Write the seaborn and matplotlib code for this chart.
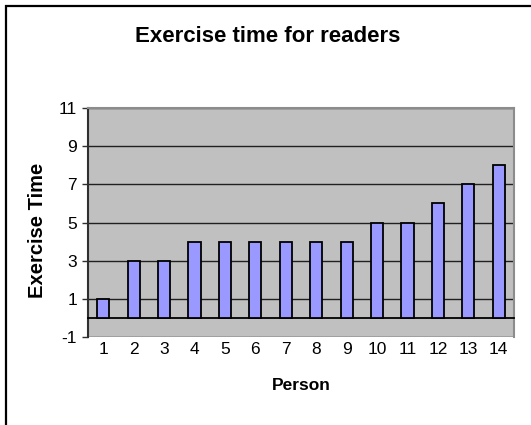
import matplotlib
matplotlib.use('Agg')
import matplotlib.pyplot as plt
import numpy as np
import pandas as pd
import seaborn as sns
from matplotlib.patches import Rectangle
from matplotlib.ticker import FixedLocator

# data
persons = ['1', '2', '3', '4', '5', '6', '7', '8', '9', '10', '11', '12', '13', '14']
exercise_time = [1, 3, 3, 4, 4, 4, 4, 4, 4, 5, 5, 6, 7, 8]
y_ticks = [-1, 1, 3, 5, 7, 9, 11]

TITLE = 'Exercise time for readers'
XLABEL = 'Person'
YLABEL = 'Exercise Time'

sns.set_style('white')
plt.rcParams['font.family'] = ['Liberation Sans', 'DejaVu Sans']
plt.rcParams['text.color'] = 'black'
plt.rcParams['axes.labelcolor'] = 'black'
plt.rcParams['xtick.color'] = 'black'
plt.rcParams['ytick.color'] = 'black'

df = pd.DataFrame({'Person': persons, 'Exercise Time': exercise_time})

fig = plt.figure(figsize=(5.31, 4.25), dpi=100)
ax = fig.add_axes([88 / 531, 1 - 337 / 425, 426 / 531, 229 / 425])
ax.set_facecolor('#C0C0C0')

sns.barplot(data=df, x='Person', y='Exercise Time', order=persons,
            color='#9999FF', edgecolor='black', linewidth=1.3,
            width=0.4, saturation=1, ax=ax, zorder=3)

ax.set_ylim(-1, 11)
ax.set_xlim(-0.5, len(persons) - 0.5)
ax.set_yticks(y_ticks)
ax.set_yticklabels([str(t) for t in y_ticks], fontsize=12.5)
ax.yaxis.grid(True, color='#202020', linewidth=1.0, zorder=1)
ax.set_axisbelow(True)

# category axis crosses at zero, labels stay at the bottom
ax.spines['bottom'].set_position(('data', 0))
ax.spines['bottom'].set_color('black')
ax.spines['bottom'].set_linewidth(1.3)
ax.spines['left'].set_color('#303030')
ax.spines['left'].set_linewidth(1.5)
for s in ['top', 'right']:
    ax.spines[s].set_color('#8C8C8C')
    ax.spines[s].set_linewidth(1.5)

ax.tick_params(axis='x', which='major', length=0, pad=17, labelsize=12.5)
ax.xaxis.set_minor_locator(FixedLocator(np.arange(-0.5, len(persons), 1.0)))
ax.tick_params(axis='x', which='minor', direction='out', length=4, width=1, color='black')
ax.tick_params(axis='y', direction='out', length=4, width=1, color='#303030', left=True, pad=4)

ax.set_xlabel(XLABEL, fontsize=12.5, fontweight='bold')
ax.set_ylabel(YLABEL, fontsize=14.5, fontweight='bold')
ax.xaxis.set_label_coords(0.5, -0.179)
ax.yaxis.set_label_coords(-0.096, 0.467)

fig.text(268 / 531, 1 - 37 / 425, TITLE, ha='center', va='center',
         fontsize=16, fontweight='bold')

# outer chart border
fig.patches.append(Rectangle((6 / 531, -0.02), 1.0, 1 - 6 / 425 + 0.02,
                             transform=fig.transFigure, fill=False,
                             edgecolor='black', linewidth=1.6))

fig.savefig('out.png', dpi=100)
